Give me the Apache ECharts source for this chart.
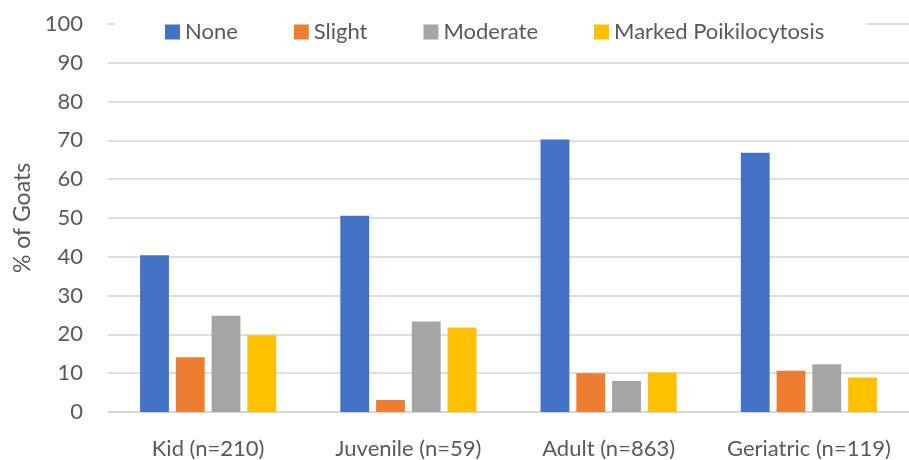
<!DOCTYPE html>
<html>
<head>
<meta charset="utf-8">
<script src="https://cdn.jsdelivr.net/npm/echarts@6/dist/echarts.min.js"></script>
<style>html,body{margin:0;padding:0;background:#fff}#c{width:909px;height:460px}</style>
</head>
<body>
<div id="c"></div>
<script>
const categories = ['Kid (n=210)', 'Juvenile (n=59)', 'Adult (n=863)', 'Geriatric (n=119)'];
const seriesNames = ['None', 'Slight', 'Moderate', 'Marked Poikilocytosis'];
const noneVals = [40.4, 50.6, 70.2, 66.8];
const slightVals = [14.1, 3.1, 10.0, 10.6];
const moderateVals = [24.8, 23.3, 8.0, 12.3];
const markedVals = [19.8, 21.8, 10.2, 8.9];
const yTicks = [0, 10, 20, 30, 40, 50, 60, 70, 80, 90, 100];

const colors = ['#4472C4', '#ED7D31', '#A5A5A5', '#FFC000'];
const allVals = [noneVals, slightVals, moderateVals, markedVals];
const font = 'Lato, "Open Sans", sans-serif';

const chart = echarts.init(document.getElementById('c'), null, {renderer: 'canvas'});
chart.setOption({
  animation: false,
  backgroundColor: '#fff',
  color: colors,
  grid: {left: 108, right: -9, top: 24, bottom: 47, containLabel: false},
  legend: {
    data: seriesNames,
    left: 115, top: 17,
    padding: [4, 42, 4, 50],
    backgroundColor: '#fff',
    itemWidth: 15, itemHeight: 15, itemGap: 56,
    icon: 'rect',
    textStyle: {fontFamily: font, fontSize: 22, color: '#595959'},
    z: 10
  },
  xAxis: {
    type: 'category', data: categories,
    axisLine: {show: true, lineStyle: {color: '#d4d4d4', width: 1.5}},
    axisTick: {show: false},
    axisLabel: {fontFamily: font, fontSize: 22, color: '#595959', margin: 26,
      interval: 0, hideOverlap: false}
  },
  yAxis: {
    type: 'value', min: 0, max: 100, interval: 10,
    name: '% of Goats', nameLocation: 'middle', nameGap: 74,
    nameTextStyle: {fontFamily: font, fontSize: 23, color: '#595959'},
    axisLine: {show: false}, axisTick: {show: false},
    axisLabel: {fontFamily: font, fontSize: 22, color: '#595959', margin: 25,
      formatter: v => yTicks.includes(v) ? String(v) : ''},
    splitLine: {lineStyle: {color: '#d4d4d4', width: 1.5}}
  },
  series: seriesNames.map((n, i) => ({
    name: n, type: 'bar', data: allVals[i],
    barWidth: '14.4%', barGap: '24%', barCategoryGap: '32%'
  }))
});
</script>
</body>
</html>
